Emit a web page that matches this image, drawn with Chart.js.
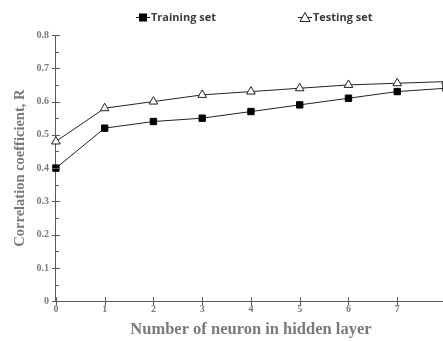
<!DOCTYPE html>
<html><head><meta charset="utf-8">
<script src="https://cdn.jsdelivr.net/npm/chart.js@4/dist/chart.umd.min.js"></script>
<style>html,body{margin:0;padding:0;overflow:hidden;background:#fff}</style>
</head><body>
<canvas id="c" width="452" height="341"></canvas>
<script>
const neurons = [0, 1, 2, 3, 4, 5, 6, 7, 8];
const trainingSet = [0.40, 0.52, 0.54, 0.55, 0.57, 0.59, 0.61, 0.63, 0.64];
const testingSet = [0.48, 0.58, 0.60, 0.62, 0.63, 0.64, 0.65, 0.655, 0.66];
const xTickLabels = ['0', '1', '2', '3', '4', '5', '6', '7'];
const yTickLabels = ['0', '0.1', '0.2', '0.3', '0.4', '0.5', '0.6', '0.7', '0.8'];

const axisColor = '#595959';
const textColor = '#7a7a7a';

// Custom legend: line + marker icon followed by label, spread wide like the original
const legendPlugin = {
  id: 'wideLegend',
  afterDraw(chart, args, opts) {
    const ctx = chart.ctx;
    ctx.save();
    ctx.font = 'bold 11px "Open Sans"';
    ctx.textBaseline = 'middle';
    const cy = opts.y;
    chart.data.datasets.forEach((ds, i) => {
      const x0 = opts.starts[i];
      ctx.strokeStyle = '#222'; ctx.lineWidth = 1;
      ctx.beginPath(); ctx.moveTo(x0, cy + 0.5); ctx.lineTo(x0 + 14, cy + 0.5); ctx.stroke();
      const mx = x0 + 7;
      if (ds.pointStyle === 'rect') {
        ctx.fillStyle = '#000'; ctx.fillRect(mx - 4, cy - 3.5, 8, 8);
      } else {
        ctx.fillStyle = '#fff';
        ctx.beginPath(); ctx.moveTo(mx, cy - 4.5); ctx.lineTo(mx + 5, cy + 4.5); ctx.lineTo(mx - 5, cy + 4.5); ctx.closePath();
        ctx.fill(); ctx.stroke();
      }
      ctx.fillStyle = '#3a3a3a';
      ctx.fillText(ds.label, x0 + 15, cy + 1);
    });
    ctx.restore();
  }
};

const ticksPlugin = {
  id: 'ticksPlugin',
  afterDraw(chart) {
    const ctx = chart.ctx;
    const x = chart.scales.x, y = chart.scales.y;
    ctx.save();
    ctx.strokeStyle = axisColor; ctx.lineWidth = 1;
    ctx.beginPath();
    for (let i = 0; i < yTickLabels.length; i++) {
      const v = parseFloat(yTickLabels[i]);
      const py = Math.round(y.getPixelForValue(v)) + 0.5;
      ctx.moveTo(x.left - 4, py); ctx.lineTo(x.left + 4, py);
      if (i < yTickLabels.length - 1) {
        const pm = Math.round(y.getPixelForValue(v + 0.05)) + 0.5;
        ctx.moveTo(x.left, pm); ctx.lineTo(x.left + 3, pm);
      }
    }
    for (let i = 0; i < xTickLabels.length; i++) {
      const px = Math.round(x.getPixelForValue(parseFloat(xTickLabels[i]))) + 0.5;
      ctx.moveTo(px, y.bottom - 4); ctx.lineTo(px, y.bottom + 4);
    }
    ctx.stroke();
    ctx.restore();
  }
};

new Chart(document.getElementById('c'), {
  type: 'line',
  data: {
    datasets: [
      {
        label: 'Training set',
        data: neurons.map((n, i) => ({x: n, y: trainingSet[i]})),
        borderColor: '#222', borderWidth: 1,
        pointStyle: 'rect', pointRadius: 4.5, pointBackgroundColor: '#000', pointBorderColor: '#000',
        pointBorderWidth: 1, clip: false
      },
      {
        label: 'Testing set',
        data: neurons.map((n, i) => ({x: n, y: testingSet[i]})),
        borderColor: '#222', borderWidth: 1,
        pointStyle: 'triangle', pointRadius: 5, pointBackgroundColor: '#fff', pointBorderColor: '#222',
        pointBorderWidth: 1, clip: false
      }
    ]
  },
  options: {
    responsive: false,
    animation: false,
    layout: {padding: {left: 0, top: 35, right: 6, bottom: 1}},
    plugins: {
      legend: {display: false},
      tooltip: {enabled: false},
      wideLegend: {y: 17, starts: [136, 298]}
    },
    scales: {
      x: {
        type: 'linear', min: 0, max: 8,
        grid: {display: false, drawTicks: false},
        border: {color: axisColor, width: 1},
        ticks: {
          stepSize: 1, padding: 2, color: textColor,
          font: {family: 'Liberation Serif', size: 10, weight: 'bold'},
          callback: (v) => xTickLabels.includes(String(v)) ? String(v) : ''
        },
        title: {
          display: true, text: 'Number of neuron in hidden layer', color: textColor,
          font: {family: 'Liberation Serif', size: 16.5, weight: 'bold'}, padding: {top: 3, bottom: 0}
        }
      },
      y: {
        type: 'linear', min: 0, max: 0.8,
        grid: {display: false, drawTicks: false},
        border: {color: axisColor, width: 1},
        ticks: {
          stepSize: 0.1, padding: 7, color: textColor,
          font: {family: 'Liberation Serif', size: 10, weight: 'bold'},
          callback: (v) => {
            const s = String(Math.round(v * 10) / 10);
            return yTickLabels.includes(s) ? s : '';
          }
        },
        title: {
          display: true, text: 'Correlation coefficient, R', color: textColor,
          font: {family: 'Liberation Serif', size: 14.5, weight: 'bold'}, padding: {top: 12, bottom: 0}
        }
      }
    }
  },
  plugins: [ticksPlugin, legendPlugin]
});
</script>
</body></html>
